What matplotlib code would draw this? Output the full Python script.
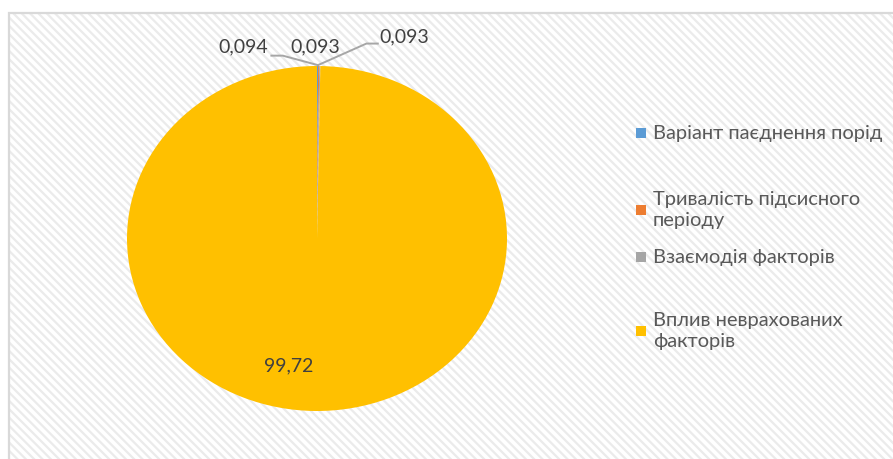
import matplotlib.pyplot as plt
from matplotlib.patches import Rectangle

# data
categories = ["Варіант паєднення порід", "Тривалість підсисного\nперіоду",
              "Взаємодія факторів", "Вплив неврахованих\nфакторів"]
values = [0.094, 0.093, 0.093, 99.72]
value_labels = ["0,094", "0,093", "0,093", "99,72"]
colors = ["#5B9BD5", "#ED7D31", "#A5A5A5", "#FFC000"]

W, H = 893, 459
fig = plt.figure(figsize=(W / 100, H / 100), dpi=100)
fig.patch.set_facecolor("white")
plt.rcParams["font.family"] = ["Lato", "DejaVu Sans"]
plt.rcParams["hatch.linewidth"] = 1.6


def fx(px):
    return px / W


def fy(py):
    return 1 - py / H


# chart area with diagonal pattern
bg = Rectangle((fx(8), 0), 1.0, fy(12), transform=fig.transFigure,
               facecolor="white", edgecolor="#EBEBEB", hatch="\\\\\\\\",
               linewidth=0, zorder=-3)
fig.patches.append(bg)
frame = Rectangle((fx(9), -0.01), 1.0, fy(13) + 0.01, transform=fig.transFigure,
                  facecolor="none", edgecolor="#D9D9D9", linewidth=1.6, zorder=-2)
fig.patches.append(frame)

# pie
ax = fig.add_axes([fx(127), fy(411), fx(507) - fx(127), fy(66) - fy(411)])
wedges, _ = ax.pie(values, colors=colors, startangle=90, counterclock=False,
                   wedgeprops=dict(edgecolor="none", linewidth=0))
ax.set_aspect("auto")
ax.set_xlim(-1, 1)
ax.set_ylim(-1, 1)
ax.axis("off")
ax.patch.set_alpha(0)

lbl_color = "#404040"
# data labels for the tiny slices
ax.text(-0.39, 1.11, value_labels[0], ha="center", va="center", fontsize=14, color=lbl_color)
ax.text(-0.01, 1.11, value_labels[1], ha="center", va="center", fontsize=14, color=lbl_color)
ax.text(0.46, 1.17, value_labels[2], ha="center", va="center", fontsize=14, color=lbl_color)
ax.text(-0.15, -0.74, value_labels[3], ha="center", va="center", fontsize=14, color=lbl_color)

# leader lines
ax.plot([0.005, -0.18, -0.24], [1.005, 1.06, 1.06], color="#A6A6A6", lw=1.4, clip_on=False)
ax.plot([0.005, 0.26, 0.32], [1.005, 1.13, 1.13], color="#A6A6A6", lw=1.4, clip_on=False)

# legend
legend_y = [133, 210, 257, 331]
for cat, col, y in zip(categories, colors, legend_y):
    fig.patches.append(Rectangle((fx(636), fy(y + 5)), fx(10), fy(0) - fy(10),
                                 transform=fig.transFigure, facecolor=col,
                                 edgecolor="none", zorder=3))
    fig.text(fx(653), fy(y), cat, ha="left", va="center", fontsize=14.5,
             color="#595959", linespacing=1.25)

fig.savefig("out.png", dpi=100)
